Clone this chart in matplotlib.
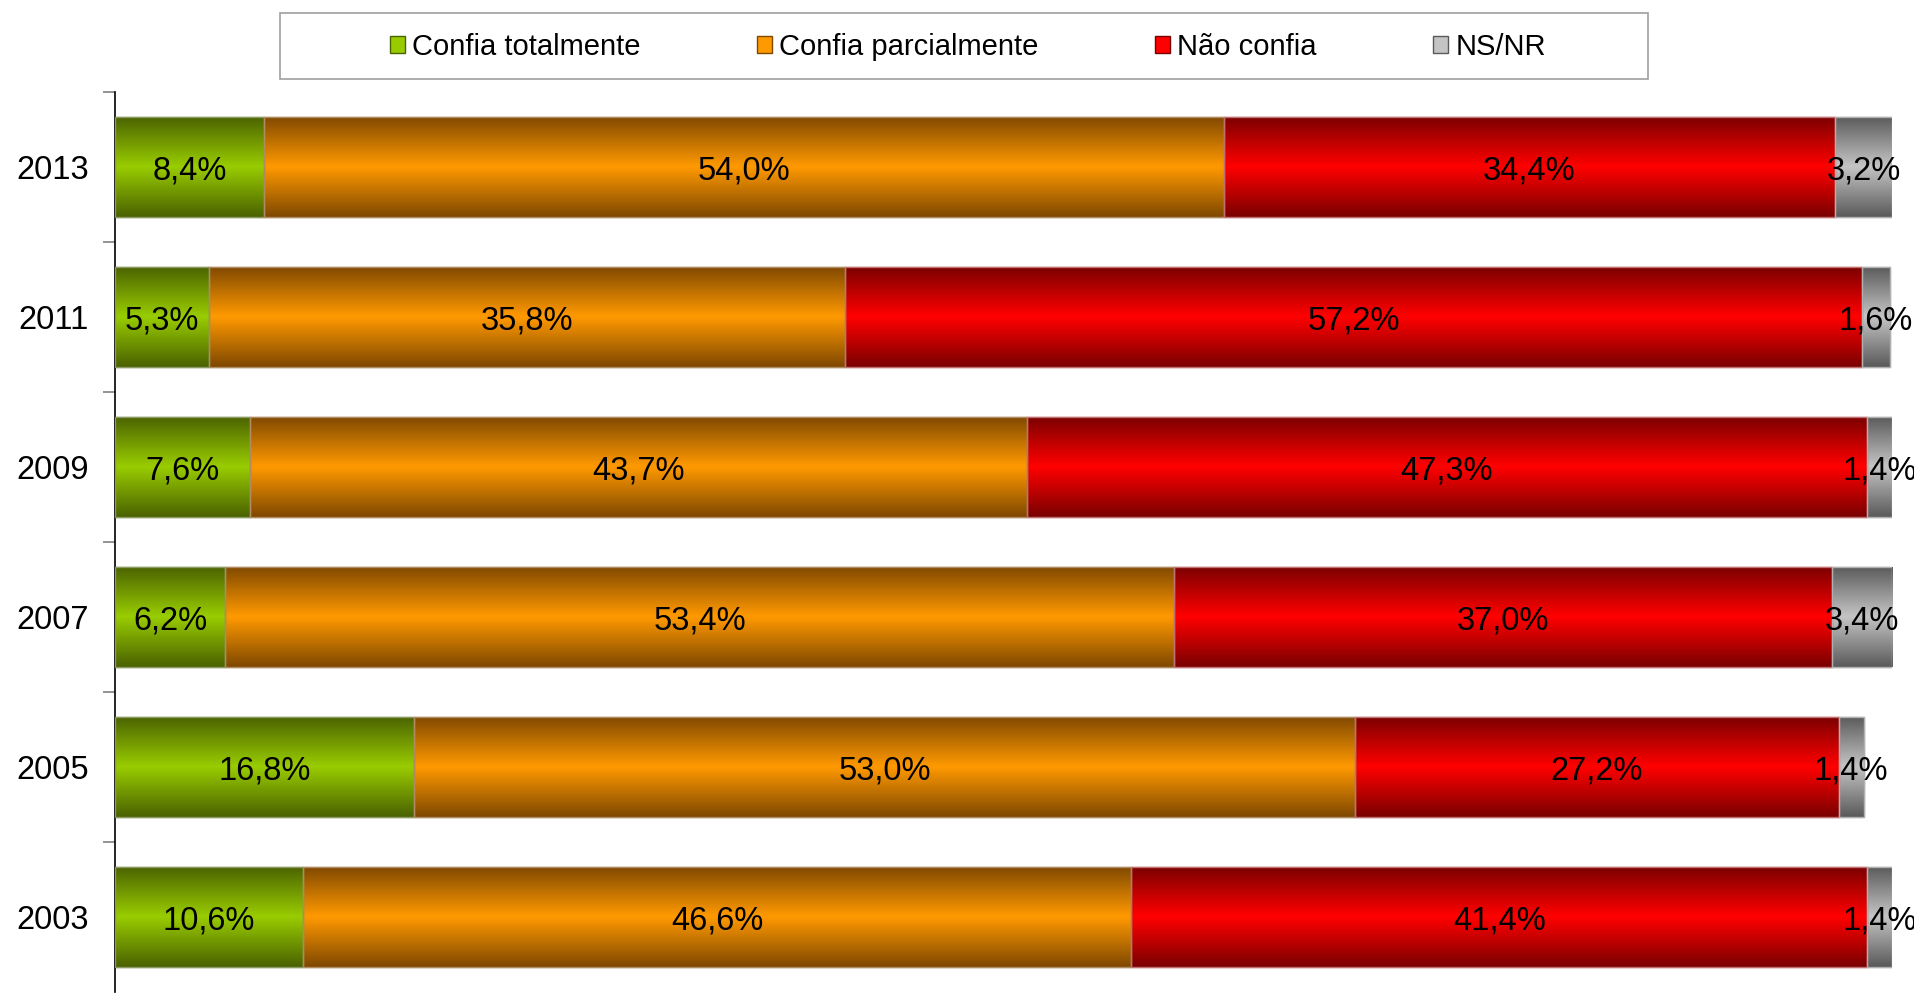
import numpy as np
import matplotlib.pyplot as plt
from matplotlib.colors import LinearSegmentedColormap
from matplotlib.patches import Patch, Rectangle

plt.rcParams['font.family'] = ['Liberation Sans', 'DejaVu Sans']

years = ['2013', '2011', '2009', '2007', '2005', '2003']
series = ['Confia totalmente', 'Confia parcialmente', 'Não confia', 'NS/NR']
confia_total = [8.4, 5.3, 7.6, 6.2, 16.8, 10.6]
confia_parcial = [54.0, 35.8, 43.7, 53.4, 53.0, 46.6]
nao_confia = [34.4, 57.2, 47.3, 37.0, 27.2, 41.4]
ns_nr = [3.2, 1.6, 1.4, 3.4, 1.4, 1.4]

# (dark, bright) pairs for the vertical gradient
colors = [('#4a6200', '#99cc00'),
          ('#7f4800', '#ff9900'),
          ('#7a0000', '#ff0000'),
          ('#5a5a5a', '#c4c4c4')]
edges = ['#8a9a60', '#b08a60', '#c07070', '#b0b0b0']

fig = plt.figure(figsize=(19.15, 9.93), dpi=100)
ax = fig.add_axes([115/1915, 1/993, (1892-115)/1915, 900/993])

y = np.arange(len(years))
grad = np.abs(np.linspace(-1, 1, 200)).reshape(-1, 1)
left = np.zeros(len(years))
for vals, (dark, bright), ec, name in zip(
        [confia_total, confia_parcial, nao_confia, ns_nr], colors, edges, series):
    vals = np.array(vals)
    bars = ax.barh(y, vals, left=left, height=0.667, color=bright,
                   edgecolor=ec, linewidth=1, label=name, zorder=2)
    cmap = LinearSegmentedColormap.from_list('g', [bright, dark])
    for b in bars:
        x0, y0, w, h = b.get_x(), b.get_y(), b.get_width(), b.get_height()
        im = ax.imshow(grad, cmap=cmap, aspect='auto', interpolation='bilinear',
                       extent=(x0, x0 + w, y0 + h, y0), zorder=2.5)
        im.set_clip_path(b)
        r = Rectangle((x0, y0), w, h, fill=False, edgecolor=ec, linewidth=1, zorder=3)
        ax.add_patch(r)
    for yi, l, v in zip(y, left, vals):
        ax.text(l + v / 2, yi + 0.025, f'{v:.1f}%'.replace('.', ','), ha='center', va='center',
                fontsize=23.5, color='black', zorder=4)
    left = left + vals

ax.set_xlim(0, 100)
ax.set_ylim(len(years) - 0.5, -0.5)
ax.set_yticks(y)
ax.set_yticklabels(years, fontsize=23.5)
ax.set_yticks(np.arange(len(years)) - 0.5, minor=True)
ax.tick_params(axis='y', which='major', length=0, pad=19)
ax.tick_params(axis='y', which='minor', length=9, color='#808080', width=1.2)
ax.set_xticks([])
for s in ['top', 'right', 'bottom']:
    ax.spines[s].set_visible(False)
ax.spines['left'].set_color('black')
ax.spines['left'].set_linewidth(1.2)

# legend frame
fig.patches.append(Rectangle((280/1915, 1 - 79/993), (1648-280)/1915, 66/993,
                             transform=fig.transFigure, fill=False,
                             edgecolor='#a0a0a0', linewidth=1.2))
handles = [Patch(facecolor=b, edgecolor=d) for d, b in colors]
fig.legend(handles, series, loc='center', bbox_to_anchor=(968/1915, 1 - 47/993),
           ncol=4, frameon=False, fontsize=21, handlelength=0.5, handleheight=0.5,
           handletextpad=0.25, columnspacing=4.0)

fig.savefig('out.png', dpi=100)
